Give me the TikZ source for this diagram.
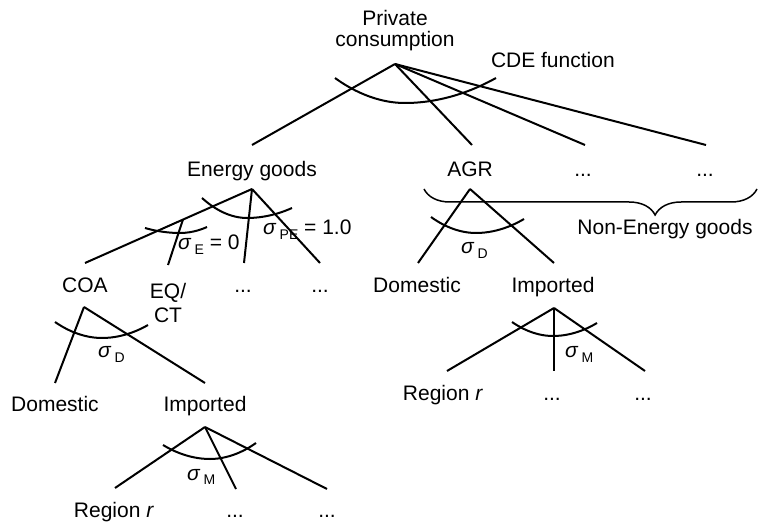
\documentclass[tikz,border=0pt]{standalone}
\usepackage{fontspec}
\setmainfont{Liberation Sans}
\usetikzlibrary{decorations.pathreplacing}
% sigma with a lowered, smaller index
\newcommand\sigsub[1]{{\itshape σ}\hspace{4pt}\raisebox{-5pt}{\fontsize{14}{14}\selectfont #1}}

\begin{document}
\begin{tikzpicture}[x=1pt, y=-1pt, line width=2pt,
  lbl/.style={inner sep=0pt, anchor=base, font=\fontsize{21}{25}\selectfont},
  sig/.style={inner sep=0pt, anchor=base west, font=\fontsize{21}{25}\selectfont},
  nest/.style={line width=2pt},
  branch/.style={line width=2pt}]
\useasboundingbox (0,0) rectangle (758,526);

% ---- labels ----
\node[lbl, align=center, anchor=south, font=\fontsize{21}{21}\selectfont] (pc) at (395,51.5) {Private\\consumption};
\node[sig] (cde) at (490,68) {CDE function};

\node[lbl] (eg)  at (252,177) {Energy goods};
\node[lbl] (agr) at (470,177) {AGR};
\node[lbl] (ne1) at (583,177) {...};
\node[lbl] (ne2) at (705,177) {...};
\node[lbl] (neg) at (665,235) {Non-Energy goods};

\node[lbl] (coa)  at (85,293)  {COA};
\node[lbl, align=center, anchor=north, font=\fontsize{21}{24}\selectfont] (eqct) at (168,282) {EQ/\\CT};
\node[lbl] (ed1)  at (243,293) {...};
\node[lbl] (ed2)  at (320,293) {...};

\node[lbl] (dom2) at (417,293) {Domestic};
\node[lbl] (imp2) at (553,293) {Imported};
\node[lbl] (reg2) at (443,401) {Region \textit{r}};
\node[lbl] (rd1)  at (552,401) {...};
\node[lbl] (rd2)  at (643,401) {...};

\node[lbl] (dom1) at (55,412)  {Domestic};
\node[lbl] (imp1) at (205,412) {Imported};
\node[lbl] (reg1) at (114,518) {Region \textit{r}};
\node[lbl] (ld1)  at (235,518) {...};
\node[lbl] (ld2)  at (327,518) {...};

% elasticities
\node[sig] (sE)  at (177,250) {\sigsub{E} = 0};
\node[sig] (sPE) at (262,235) {\sigsub{PE} = 1.0};
\node[sig] (sD2) at (460,254) {\sigsub{D}};
\node[sig] (sM2) at (564,358) {\sigsub{M}};
\node[sig] (sD1) at (97,358)  {\sigsub{D}};
\node[sig] (sM1) at (186,480) {\sigsub{M}};

% ---- branching points ----
\coordinate (pc-o)  at (395,64);
\coordinate (eg-i)  at (252,145);
\coordinate (agr-i) at (472,145);
\coordinate (ne1-i) at (585,145);
\coordinate (ne2-i) at (706,145);

\coordinate (eg-o)  at (252,189);
\coordinate (coa-i) at (85,263);
\coordinate (esub)  at (183,219.4);
\coordinate (eq-i)  at (168,265);
\coordinate (ed1-i) at (244,263);
\coordinate (ed2-i) at (320,263);

\coordinate (agr-o)  at (470,189);
\coordinate (dom2-i) at (418,263);
\coordinate (imp2-i) at (554,263);
\coordinate (imp2-o) at (554,308);
\coordinate (reg2-i) at (447,371);
\coordinate (rd1-i)  at (554,371);
\coordinate (rd2-i)  at (645,371);

\coordinate (coa-o)  at (84,307);
\coordinate (dom1-i) at (55,383);
\coordinate (imp1-i) at (205,383);
\coordinate (imp1-o) at (205,427);
\coordinate (reg1-i) at (115,488);
\coordinate (ld1-i)  at (236,489);
\coordinate (ld2-i)  at (327,489);

% ---- branches ----
\draw[branch] (pc-o) -- (eg-i);
\draw[branch] (pc-o) -- (agr-i);
\draw[branch] (pc-o) -- (ne1-i);
\draw[branch] (pc-o) -- (ne2-i);

\draw[branch] (eg-o) -- (coa-i);
\draw[branch] (esub) -- (eq-i);
\draw[branch] (eg-o) -- (ed1-i);
\draw[branch] (eg-o) -- (ed2-i);

\draw[branch] (agr-o) -- (dom2-i);
\draw[branch] (agr-o) -- (imp2-i);
\draw[branch] (imp2-o) -- (reg2-i);
\draw[branch] (imp2-o) -- (rd1-i);
\draw[branch] (imp2-o) -- (rd2-i);

\draw[branch] (coa-o) -- (dom1-i);
\draw[branch] (coa-o) -- (imp1-i);
\draw[branch] (imp1-o) -- (reg1-i);
\draw[branch] (imp1-o) -- (ld1-i);
\draw[branch] (imp1-o) -- (ld2-i);

% ---- nesting arcs ----
\draw[nest] (335,78)  parabola bend (405,103) (496,78);
\draw[nest] (202,198) parabola bend (247,218) (292,208);
\draw[nest] (145,228) parabola bend (180,233) (207,227);
\draw[nest] (431,217) parabola bend (476,233) (524,219);
\draw[nest] (512,322) parabola bend (553,336) (597,323);
\draw[nest] (55,322)  parabola bend (102,338) (148,325);
\draw[nest] (163,445) parabola bend (210,459) (256,443);

% ---- brace over the non-energy goods ----
\draw[line width=1.5pt, decorate, decoration={brace, amplitude=26pt, aspect=0.306}] (757,189) -- (424,189);
\end{tikzpicture}
\end{document}
